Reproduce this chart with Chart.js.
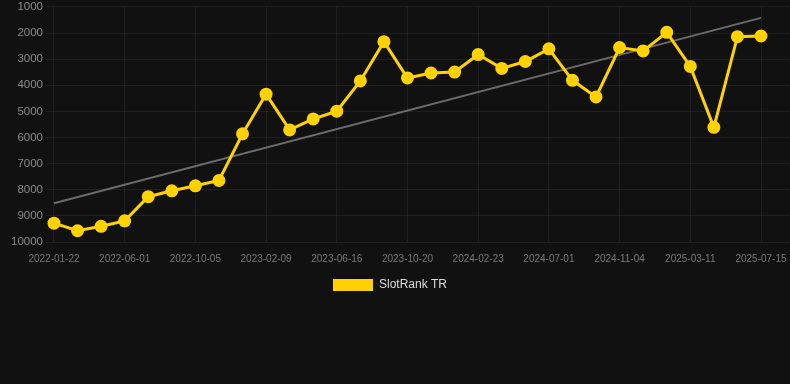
<!DOCTYPE html>
<html>
<head>
<meta charset="utf-8">
<script src="https://cdn.jsdelivr.net/npm/chart.js@4"></script>
<style>
  html, body { margin: 0; padding: 0; background: #111111; overflow: hidden; }
  #wrap { width: 790px; height: 304px; margin-top: -3px; }
</style>
</head>
<body>
<div id="wrap"><canvas id="rankChart"></canvas></div>
<script>
const dates = [
  "2022-01-22", "2022-03-06", "2022-04-18", "2022-06-01", "2022-07-13",
  "2022-08-24", "2022-10-05", "2022-11-17", "2022-12-29", "2023-02-09",
  "2023-03-24", "2023-05-05", "2023-06-16", "2023-07-28", "2023-09-08",
  "2023-10-20", "2023-12-01", "2024-01-12", "2024-02-23", "2024-04-06",
  "2024-05-19", "2024-07-01", "2024-08-12", "2024-09-23", "2024-11-04",
  "2024-12-16", "2025-01-27", "2025-03-11", "2025-04-22", "2025-06-03",
  "2025-07-15",
];

const rankTR = [
  9280, 9570, 9400, 9190, 8265, 8040, 7850, 7645, 5860, 4340,
  5710, 5290, 4990, 3835, 2330, 3720, 3530, 3495, 2825, 3355,
  3090, 2605, 3810, 4445, 2555, 2685, 1975, 3280, 5610, 2140,
  2115,
];

// trend line: only the two ends are known, the rest is spanned
const trend = dates.map(() => null);
trend[0] = 8520;
trend[trend.length - 1] = 1420;

const yTicks = [1000, 2000, 3000, 4000, 5000, 6000, 7000, 8000, 9000, 10000];

const gridColor = "rgba(255,255,255,0.06)";
const fontFam = "Arial, 'Liberation Sans', sans-serif";

// legend sits a bit left of the canvas centre in the original
const legendShift = {
  id: "legendShift",
  afterLayout(chart) {
    if (chart.legend) {
      chart.legend.left -= 9;
      chart.legend.right -= 9;
    }
  },
};

const ctx = document.getElementById("rankChart").getContext("2d");

const chart = new Chart(ctx, {
  type: "line",
  data: {
    labels: dates,
    datasets: [
      {
        label: "SlotRank TR",
        data: rankTR,
        borderColor: "#ffd200",
        backgroundColor: "#ffd200",
        borderWidth: 3,
        pointRadius: 5,
        pointHoverRadius: 6,
        pointBackgroundColor: "#ffd200",
        pointBorderColor: "#ffd200",
        tension: 0,
        order: 1,
      },
      {
        label: "trend",
        data: trend,
        borderColor: "#6b6b6b",
        borderWidth: 2,
        pointRadius: 0,
        spanGaps: true,
        order: 2,
      },
    ],
  },
  plugins: [legendShift],
  options: {
    responsive: true,
    maintainAspectRatio: false,
    animation: false,
    layout: { padding: { left: 8, top: 0, right: 0, bottom: 0 } },
    plugins: {
      tooltip: { enabled: false },
      legend: {
        position: "bottom",
        labels: {
          boxWidth: 40,
          boxHeight: 12,
          padding: 11,
          color: "#dddddd",
          font: { size: 12, family: fontFam },
          filter: (item) => item.text === "SlotRank TR",
          generateLabels: (c) =>
            Chart.defaults.plugins.legend.labels.generateLabels(c).map((it) => ({ ...it, lineWidth: 0 })),
        },
      },
    },
    scales: {
      x: {
        offset: false,
        grid: { color: gridColor, tickLength: 8, tickColor: "transparent" },
        border: { display: false },
        ticks: {
          color: "#7a7a7a",
          padding: 3,
          font: { size: 10, family: fontFam },
          maxRotation: 0,
          autoSkip: true,
          callback: function (val, i) {
            return i % 3 === 0 ? this.getLabelForValue(val) : null;
          },
        },
      },
      y: {
        reverse: true,
        min: yTicks[0],
        max: yTicks[yTicks.length - 1],
        grid: { color: gridColor, tickLength: 8 },
        border: { display: false },
        afterBuildTicks: (axis) => { axis.ticks = yTicks.map((v) => ({ value: v })); },
        ticks: {
          color: "#8c8c8c",
          font: { size: 11.5, family: fontFam },
          callback: (v) => v,
        },
      },
      yRight: {
        position: "right",
        reverse: true,
        min: yTicks[0],
        max: yTicks[yTicks.length - 1],
        afterBuildTicks: (axis) => { axis.ticks = yTicks.map((v) => ({ value: v })); },
        grid: { color: gridColor, drawOnChartArea: false, tickLength: 29 },
        border: { display: false },
        ticks: { display: false },
      },
    },
  },
});
</script>
</body>
</html>
